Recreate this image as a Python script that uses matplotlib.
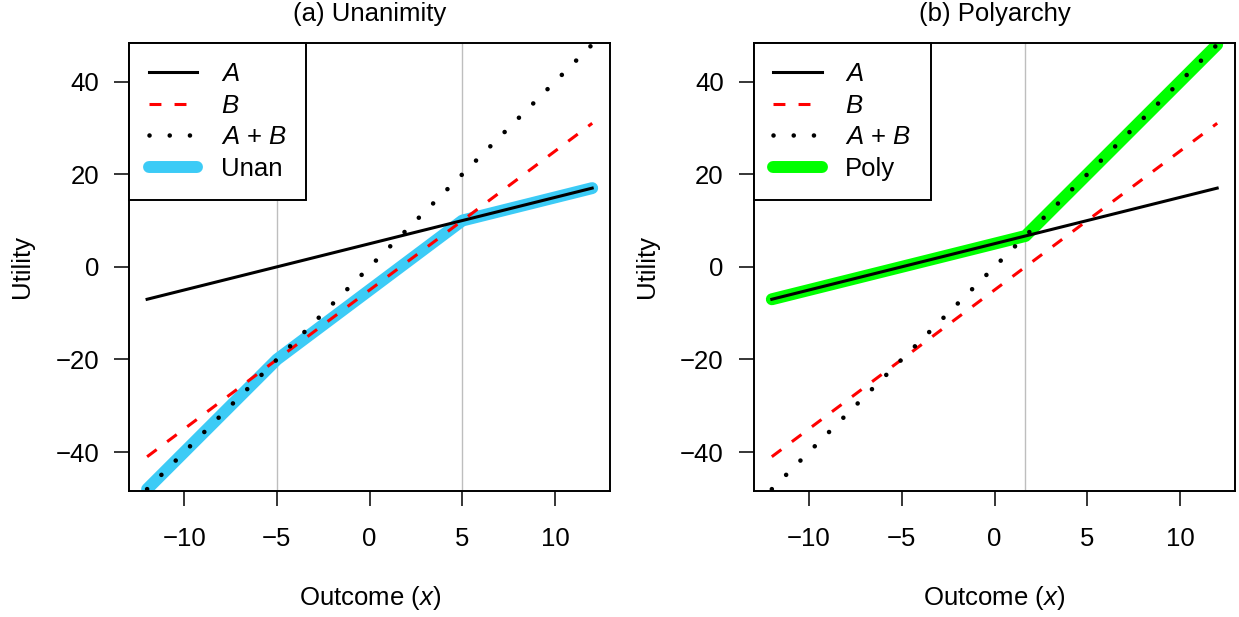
import matplotlib
matplotlib.use("Agg")
from matplotlib import pyplot as plt
from matplotlib.lines import Line2D

plt.rcParams['font.family'] = ['Liberation Sans', 'DejaVu Sans']
plt.rcParams['mathtext.fontset'] = 'custom'
plt.rcParams['mathtext.rm'] = 'Liberation Sans'
plt.rcParams['mathtext.it'] = 'Liberation Sans:italic'
plt.rcParams['axes.unicode_minus'] = True

# outcome range and the two players' utilities
x_end = [-12, 12]
util_a = [-7, 17]
util_b = [-41, 31]
util_ab = [-48, 48]

# unanimity rule (kinks at -5 and 5)
unan_x = [-12, -5, 5, 12]
unan_y = [-48, -20, 10, 17]
unan_vlines = [-5, 5]

# polyarchy rule (kink where A meets A + B)
poly_x = [-12, 1.67, 12]
poly_y = [-7, 6.67, 48]
poly_vlines = [1.67]

xticks = [-10, -5, 0, 5, 10]
yticks = [-40, -20, 0, 20, 40]

FS = 18.5
W, H = 1239, 617

DOTS = (0, (0.01, 4.4))
DASH = (0, (3.9, 4.3))

fig = plt.figure(figsize=(W / 100, H / 100), dpi=100)

def px_axes(left, right, top, bottom):
    return fig.add_axes([left / W, 1 - bottom / H, (right - left) / W, (bottom - top) / H])

def draw_panel(ax, title, vlines, rule_x, rule_y, rule_col, rule_name):
    for v in vlines:
        ax.axvline(v, color='#BEBEBE', lw=1.0, zorder=1)
    ax.plot(rule_x, rule_y, color=rule_col, lw=8.6, solid_capstyle='round',
            solid_joinstyle='round', zorder=2)
    ax.plot(x_end, util_a, color='black', lw=2.2, zorder=3)
    ax.plot(x_end, util_b, color='red', lw=2.2, ls=DASH, zorder=3)
    ax.plot(x_end, util_ab, color='black', lw=3.3, ls=DOTS,
            dash_capstyle='round', zorder=3)

    ax.set_xlim(-12.96, 12.96)
    ax.set_ylim(-48.4, 48.4)
    ax.set_xticks(xticks)
    ax.set_yticks(yticks)
    ax.tick_params(direction='out', length=10.8, width=1.1, labelsize=FS)
    ax.tick_params(axis='x', pad=15)
    ax.tick_params(axis='y', pad=11)
    for s in ax.spines.values():
        s.set_linewidth(1.4)
    ax.set_title(title, fontsize=FS, pad=15.5)
    ax.text(0.5, -0.254, 'Outcome ($x$)', transform=ax.transAxes,
            ha='center', va='baseline', fontsize=FS)
    ax.text(-0.223, 0.5, 'Utility', transform=ax.transAxes, rotation=90,
            ha='center', va='center', fontsize=FS)

    handles = [
        Line2D([], [], color='black', lw=2.2),
        Line2D([], [], color='red', lw=2.2, ls=DASH),
        Line2D([], [], color='black', lw=3.3, ls=DOTS, dash_capstyle='round'),
        Line2D([], [], color=rule_col, lw=8.6, solid_capstyle='round'),
    ]
    labels = ['$A$', '$B$', '$A$ + $B$', rule_name]
    leg = ax.legend(handles, labels, loc='upper left', borderaxespad=0,
                    fancybox=False, framealpha=1, edgecolor='black',
                    fontsize=FS, handlelength=1.9, handletextpad=0.9,
                    labelspacing=0.3, borderpad=0.75)
    leg.get_frame().set_linewidth(1.4)

ax1 = px_axes(129.3, 610, 42.7, 491)
ax2 = px_axes(754, 1235, 42.7, 491)

draw_panel(ax1, '(a) Unanimity', unan_vlines, unan_x, unan_y, '#3CCBF6', 'Unan')
draw_panel(ax2, '(b) Polyarchy', poly_vlines, poly_x, poly_y, '#00FF00', 'Poly')

plt.savefig('out.png', dpi=100)
